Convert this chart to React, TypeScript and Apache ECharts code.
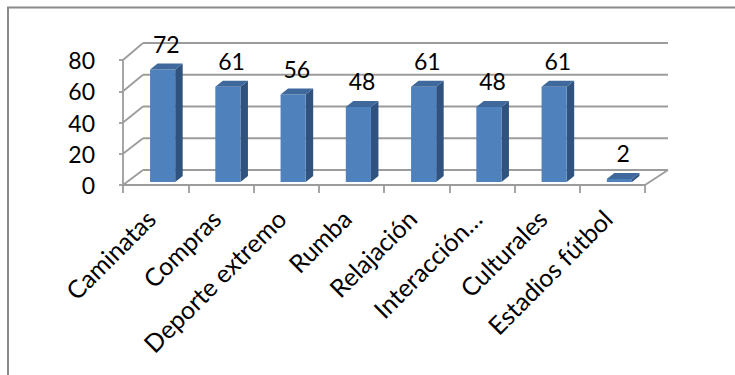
import React, { useEffect, useRef } from "react";
import * as echarts from "echarts";

const categories = [
  "Caminatas",
  "Compras",
  "Deporte extremo",
  "Rumba",
  "Relajación",
  "Interacción…",
  "Culturales",
  "Estadios fútbol",
];
const values = [72, 61, 56, 48, 61, 48, 61, 2];
const yTicks = [0, 20, 40, 60, 80];

const FONT = "Lato, 'Open Sans', sans-serif";
const GRID_COLOR = "#9c9c9c";

export default function App() {
  const ref = useRef<HTMLDivElement>(null);

  useEffect(() => {
    if (!ref.current) return;
    const chart = echarts.init(ref.current, undefined, { renderer: "svg" });

    const wallRender = (params: any, api: any) => {
      const v = api.value(1);
      const bw = api.size([1, 0])[0];
      const pL = api.coord([0, v]);
      const pR = api.coord([categories.length - 1, v]);
      const p0 = api.coord([0, 0]);
      const xL = pL[0] - bw / 2;
      const xR = pR[0] + bw / 2;
      const yF = pL[1];
      const yB = yF - 15 - ((p0[1] - yF) * 2) / 125;
      const style = { stroke: GRID_COLOR, lineWidth: 1.8, fill: "none" };
      const children: any[] = [
        { type: "line", shape: { x1: xL, y1: yF, x2: xL + 20, y2: yB }, style },
        { type: "line", shape: { x1: xL + 20, y1: yB, x2: xR + 23, y2: yB }, style },
      ];
      if (v === 0) {
        children.push({ type: "line", shape: { x1: xR, y1: yF, x2: xR + 23, y2: yB }, style });
      }
      return { type: "group", children };
    };

    const barRender = (params: any, api: any) => {
      const i = api.value(0);
      const v = api.value(1);
      const base = api.coord([i, 0]);
      const top = api.coord([i, v]);
      const bw = api.size([1, 0])[0];
      const w = bw * 0.385;
      const cx = base[0] + 7;
      const x0 = cx - w / 2;
      const x1 = cx + w / 2;
      const yb = base[1] - 3;
      const yt = top[1] - 3;
      const dx = 7.5;
      const dy = -6;
      return {
        type: "group",
        children: [
          {
            type: "polygon",
            shape: { points: [[x1, yt], [x1 + dx, yt + dy], [x1 + dx, yb + dy], [x1, yb]] },
            style: { fill: "#30527f" },
          },
          {
            type: "polygon",
            shape: { points: [[x0, yt], [x1, yt], [x1, yb], [x0, yb]] },
            style: { fill: "#4f81bd" },
          },
          {
            type: "polygon",
            shape: { points: [[x0, yt], [x0 + dx, yt + dy], [x1 + dx, yt + dy], [x1, yt]] },
            style: { fill: "#3f699d" },
          },
          {
            type: "text",
            style: {
              text: String(v),
              x: cx + dx / 2,
              y: yt + dy - 20,
              align: "center",
              verticalAlign: "middle",
              fontSize: 23,
              fontFamily: FONT,
              fill: "#000",
            },
          },
        ],
      };
    };

    chart.setOption({
      animation: false,
      graphic: [
        {
          type: "rect",
          shape: { x: 8, y: 7.5, width: 740, height: 400 },
          style: { fill: "none", stroke: "#8a8a8a", lineWidth: 2 },
          z: 0,
        },
      ],
      grid: { left: 123, right: 90, top: 60, bottom: 190, containLabel: false },
      xAxis: {
        type: "category",
        data: categories,
        boundaryGap: true,
        axisLine: { show: true, lineStyle: { color: GRID_COLOR, width: 1.8 } },
        axisTick: { show: true, length: 8, lineStyle: { color: GRID_COLOR, width: 1.8 } },
        axisLabel: {
          interval: 0,
          rotate: 45,
          margin: 24,
          padding: [0, 7, 0, 0],
          fontSize: 25,
          fontFamily: FONT,
          color: "#000",
        },
        splitLine: { show: false },
      },
      yAxis: {
        type: "value",
        min: 0,
        max: 80,
        interval: 20,
        axisLine: { show: true, lineStyle: { color: GRID_COLOR, width: 1.8 } },
        axisTick: { show: true, length: 4, lineStyle: { color: GRID_COLOR, width: 1.8 } },
        axisLabel: { margin: 28, fontSize: 23, fontFamily: FONT, color: "#000" },
        splitLine: { show: false },
      },
      series: [
        {
          type: "custom",
          name: "walls",
          renderItem: wallRender,
          data: yTicks.map((t) => [0, t]),
          encode: { x: 0, y: 1 },
          clip: false,
          silent: true,
          z: 1,
        },
        {
          type: "custom",
          name: "bars",
          renderItem: barRender,
          data: values.map((v, i) => [i, v]),
          encode: { x: 0, y: 1 },
          clip: false,
          z: 2,
        },
      ],
    });

    return () => chart.dispose();
  }, []);

  return (
    <div
      ref={ref}
      style={{ position: "fixed", left: 0, top: 0, width: 735, height: 375, background: "#fff" }}
    />
  );
}
